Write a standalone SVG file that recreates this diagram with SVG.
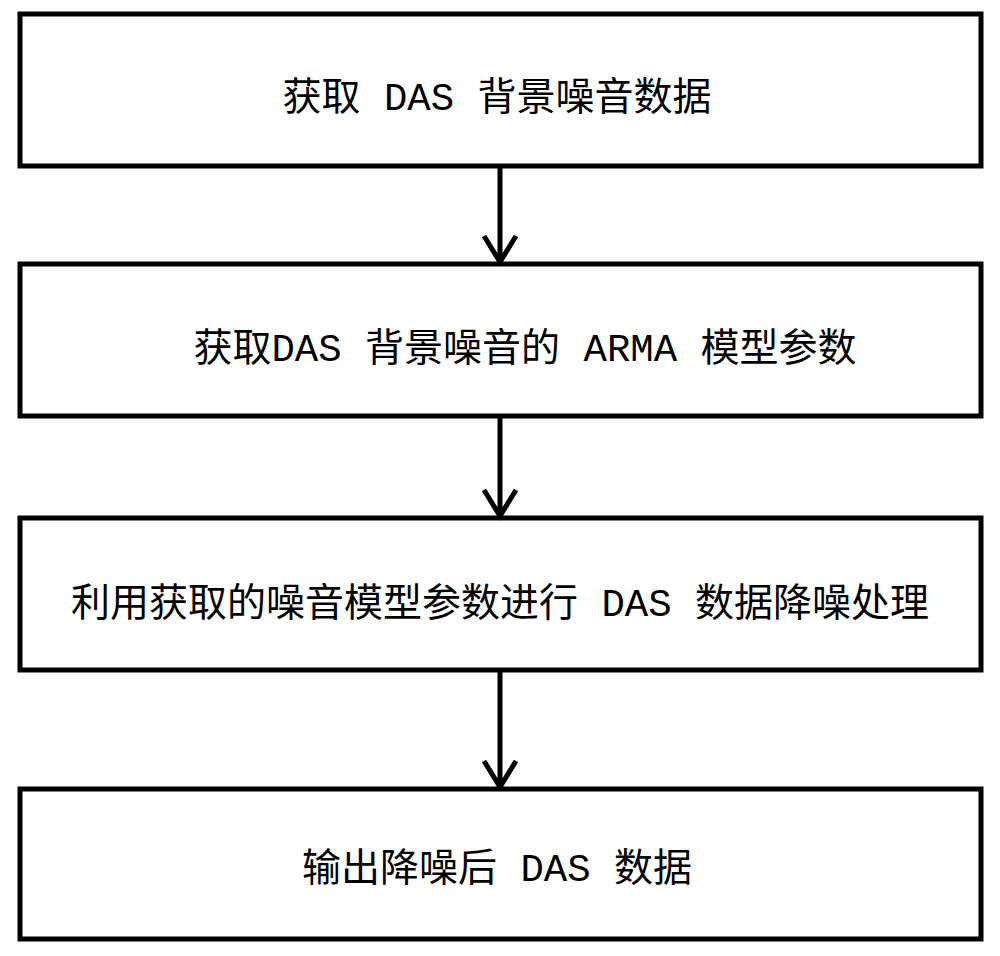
<svg xmlns="http://www.w3.org/2000/svg" width="1000" height="956" viewBox="0 0 1000 956">
<style>
.box{fill:#fff;stroke:#000;stroke-width:5}
.t{font-family:"Liberation Mono","Noto Sans CJK SC",monospace;font-size:39px;fill:#000;text-anchor:middle}
.c{stroke:#000;stroke-width:5;fill:none}
</style>
<rect width="1000" height="956" fill="#fff"/>
<g id="n1"><rect class="box" x="20" y="14" width="961" height="152"/><text class="t" x="497" y="110">获取 DAS 背景噪音数据</text></g>
<g id="n2"><rect class="box" x="20" y="264" width="961" height="152"/><text class="t" x="525" y="361">获取DAS 背景噪音的 ARMA 模型参数</text></g>
<g id="n3"><rect class="box" x="20" y="518" width="961" height="152"/><text class="t" x="500" y="616">利用获取的噪音模型参数进行 DAS 数据降噪处理</text></g>
<g id="n4"><rect class="box" x="20" y="789" width="961" height="150"/><text class="t" x="497" y="881">输出降噪后 DAS 数据</text></g>
<g id="connectors">
<path class="c" d="M500 166V262M484 236L500 262L516 236"/>
<path class="c" d="M500 416V516M484 490L500 516L516 490"/>
<path class="c" d="M500 670V787M484 761L500 787L516 761"/>
</g>
</svg>
